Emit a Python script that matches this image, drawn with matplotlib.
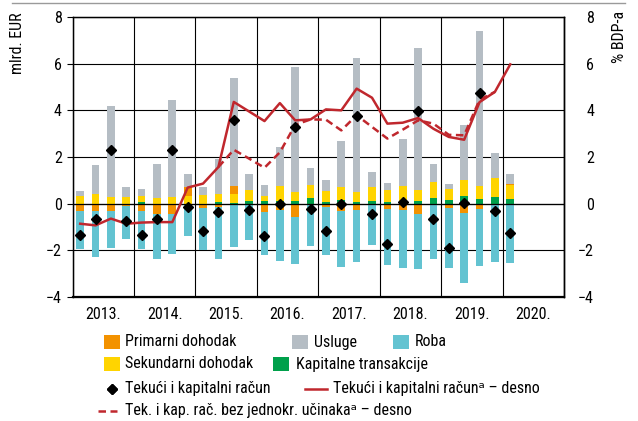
import numpy as np
import matplotlib.pyplot as plt
from matplotlib.patches import Rectangle
from matplotlib.lines import Line2D

plt.rcParams['font.family'] = ['Roboto Condensed', 'DejaVu Sans']
plt.rcParams['font.size'] = 11.5

# kvartalni podaci, 2013. Q1 - 2020. Q1 (mlrd. EUR)
start_year = 2013
usluge = [0.23, 1.21, 3.91, 0.43, 0.29, 1.43, 4.14, 0.55, 0.36, 1.50, 4.64, 0.66,
          0.43, 1.69, 5.36, 0.72, 0.47, 1.98, 5.74, 0.65, 0.33, 2.02, 6.10, 0.76,
          0.25, 2.33, 6.65, 1.10, 0.43]
sekundarni = [0.33, 0.43, 0.28, 0.29, 0.26, 0.26, 0.29, 0.31, 0.36, 0.36, 0.36, 0.49,
              0.24, 0.63, 0.39, 0.56, 0.46, 0.54, 0.43, 0.60, 0.50, 0.63, 0.46, 0.69,
              0.47, 0.70, 0.56, 0.79, 0.60]
kapitalne = [0.00, 0.00, 0.00, 0.00, 0.07, 0.00, 0.00, 0.00, 0.00, 0.07, 0.04, 0.11,
             0.11, 0.11, 0.11, 0.26, 0.07, 0.17, 0.07, 0.11, 0.07, 0.11, 0.11, 0.24,
             0.14, 0.33, 0.19, 0.29, 0.19]
primarni = [-0.33, -0.30, -0.30, -0.10, -0.33, -0.43, -0.44, 0.40, -0.17, -0.14, 0.36, 0.00,
            -0.36, -0.25, -0.57, -0.05, -0.14, -0.31, -0.29, 0.00, -0.21, -0.26, -0.43, 0.00,
            -0.19, -0.39, -0.24, -0.07, 0.04]
roba = [-1.60, -2.00, -1.62, -1.40, -1.60, -1.93, -1.70, -1.40, -1.83, -2.22, -1.86, -1.57,
        -1.85, -2.21, -2.00, -1.78, -2.05, -2.40, -2.21, -1.79, -2.43, -2.48, -2.36, -2.36,
        -2.57, -3.01, -2.43, -2.43, -2.53]
tekuci = [-1.33, -0.64, 2.30, -0.74, -1.33, -0.64, 2.30, -0.14, -1.19, -0.37, 3.60, -0.29,
          -1.39, -0.03, 3.29, -0.24, -1.17, 0.00, 3.74, -0.43, -1.71, 0.06, 3.96, -0.64,
          -1.90, 0.03, 4.74, -0.33, -1.26]

# % BDP-a (desna os)
tekuci_bdp = [-0.86, -0.93, -0.64, -0.86, -0.81, -0.79, -0.79, 0.69, 0.86, 1.57, 4.36, 3.95,
              3.54, 4.31, 3.57, 3.61, 4.04, 4.00, 4.93, 4.54, 3.43, 3.47, 3.67, 3.21,
              2.86, 2.74, 4.35, 4.79, 5.97]
bez_jednokr = [np.nan] * 9 + [1.57, 2.31, 1.93,
                              1.54, 2.20, 3.38, 3.61, 3.60, 3.14, 3.79, 3.29, 2.79, 3.17, 3.57, 3.43,
                              2.95, 2.93, 4.45, 4.79, np.nan]

years = list(range(2013, 2021))
year_labels = [f'{y}.' for y in years]

colors = {
    'primarni': '#F39200',
    'sekundarni': '#FFD400',
    'kapitalne': '#00A04B',
    'usluge': '#B5BDC4',
    'roba': '#63C3D1',
    'red': '#C0272D',
}

W, H = 638, 421
fig = plt.figure(figsize=(W / 100, H / 100), dpi=100)
ax = fig.add_axes([72.5 / W, 1 - 297 / H, (564 - 72.5) / W, (297 - 17) / H])

n = len(usluge)
x = start_year + (np.arange(n) + 0.5) / 4
bar_w = 0.125

# slaganje stupaca: pozitivni prema gore, negativni prema dolje
pos = np.zeros(n)
neg = np.zeros(n)
for key, vals in [('kapitalne', kapitalne), ('sekundarni', sekundarni),
                  ('primarni', primarni), ('usluge', usluge), ('roba', roba)]:
    v = np.array(vals)
    bottom = np.where(v >= 0, pos, neg)
    ax.bar(x, v, bar_w, bottom=bottom, color=colors[key], linewidth=0, zorder=2)
    pos += np.clip(v, 0, None)
    neg += np.clip(v, None, 0)

ax.axhline(0, color='black', lw=0.9, zorder=3)

ax.plot(x, tekuci_bdp, color=colors['red'], lw=1.8, zorder=4)
ax.plot(x, bez_jednokr, color=colors['red'], lw=1.8, dashes=(3, 1.8), zorder=4)
ax.plot(x, tekuci, 'D', color='black', ms=5, zorder=5)

ax.set_xlim(2013, 2021)
ax.set_ylim(-4, 8)
ax.set_yticks(range(-4, 9, 2))
ax.set_yticklabels([str(v).replace('-', '\u2212') for v in range(-4, 9, 2)])
ax.set_xticks(years + [2021])
ax.set_xticklabels([])
ax.set_xticks([y + 0.5 for y in years], minor=True)
ax.set_xticklabels(year_labels, minor=True)
ax.tick_params(axis='x', which='both', length=0, pad=7)
ax.tick_params(axis='y', length=4.3, width=0.8, pad=3.5, direction='out')
ax.grid(True, color='black', lw=0.8, zorder=0)
ax.set_axisbelow(True)
for side in ['left', 'right', 'top']:
    ax.spines[side].set_linewidth(1.0)
ax.spines['bottom'].set_linewidth(1.6)

ax2 = ax.twinx()
ax2.set_ylim(-4, 8)
ax2.set_yticks(range(-4, 9, 2))
ax2.set_yticklabels([str(v).replace('-', '\u2212') for v in range(-4, 9, 2)], ha='right')
ax2.tick_params(axis='y', length=0, pad=21.6)
ax2.spines['right'].set_linewidth(1.0)

fig.text(18 / W, 1 - 12 / H, 'mlrd. EUR', rotation=90, ha='center', va='top')
fig.text(620 / W, 1 - 11 / H, '% BDP-a', rotation=90, ha='center', va='top')
fig.add_artist(Line2D([12 / W, 625 / W], [1 - 3 / H, 1 - 3 / H], color='#9a9a9a', lw=1))


def px(xp, yp):
    return xp / W, 1 - yp / H


def patch_item(x0, tx, yc, color, label):
    fig.add_artist(Rectangle(px(x0, yc + 7), 15.7 / W, 14.3 / H, color=color,
                             transform=fig.transFigure, lw=0))
    fig.text(*px(tx, yc), label, ha='left', va='center')


def line_item(x0, x1, tx, yc, label, **kw):
    fig.add_artist(Line2D([x0 / W, x1 / W], [1 - yc / H] * 2, **kw))
    fig.text(*px(tx, yc), label, ha='left', va='center')


patch_item(104.3, 125, 342, colors['primarni'], 'Primarni dohodak')
patch_item(292.3, 314.3, 342, colors['usluge'], 'Usluge')
patch_item(393.3, 415, 342, colors['roba'], 'Roba')
patch_item(104.3, 125, 364, colors['sekundarni'], 'Sekundarni dohodak')
patch_item(273.3, 295.7, 364, colors['kapitalne'], 'Kapitalne transakcije')
line_item(111.7, 111.7, 125, 389, 'Tekući i kapitalni račun',
          marker='D', color='black', ms=5, lw=0)
line_item(305, 326.7, 333.3, 389, 'Tekući i kapitalni računᵃ – desno',
          color=colors['red'], lw=1.8)
line_item(98.3, 116.7, 125, 410.5, 'Tek. i kap. rač. bez jednokr. učinakaᵃ – desno',
          color=colors['red'], lw=1.8, dashes=(3, 1.8))

fig.savefig('out.png', dpi=100)
